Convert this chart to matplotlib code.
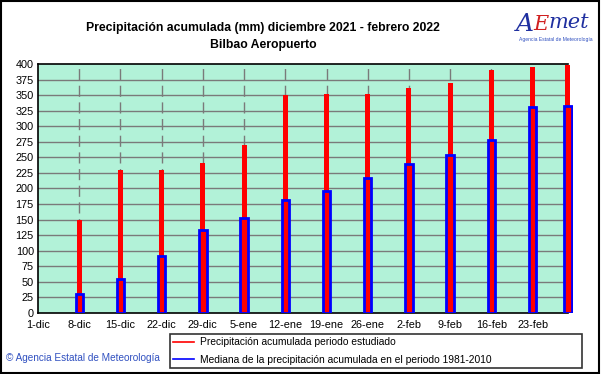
import matplotlib.pyplot as plt
from matplotlib.lines import Line2D
from matplotlib.patches import Rectangle

plt.rcParams['font.family'] = ['Liberation Sans', 'DejaVu Sans']

# data
days = [7, 14, 21, 28, 35, 42, 49, 56, 63, 70, 77, 84, 90]
precip_periodo = [150, 230, 230, 241, 270, 350, 351, 352, 362, 370, 390, 395, 399]
mediana_1981_2010 = [31, 55, 92, 134, 152, 181, 196, 217, 240, 254, 278, 331, 333]
tick_days = [0, 7, 14, 21, 28, 35, 42, 49, 56, 63, 70, 77, 84]
tick_labels = ['1-dic', '8-dic', '15-dic', '22-dic', '29-dic', '5-ene', '12-ene',
               '19-ene', '26-ene', '2-feb', '9-feb', '16-feb', '23-feb']

fig = plt.figure(figsize=(6.01, 3.74), dpi=100)
fig.patch.set_facecolor('white')
# axes runs a little past day 90 so the last bar is not cut
ax = fig.add_axes([0.0632, 0.163, 0.8818 * 90.8 / 90, 0.666])

# grid
for y in range(25, 400, 25):
    ax.plot([0, 90], [y, y], color='#7a7a7a', lw=1, zorder=1)
for d in tick_days[1:]:
    ax.axvline(d, color='#7a7a7a', lw=1, ls=(0, (8, 4)), zorder=1)

# bars
ax.bar(days, precip_periodo, width=0.85, color='red', zorder=3)
ax.bar(days, mediana_1981_2010, width=1.25, color='red', edgecolor='blue',
       linewidth=2, zorder=4)

ax.set_xlim(0, 90.8)
ax.set_ylim(0, 400)
ax.set_yticks(range(0, 401, 25))
ax.set_xticks(tick_days)
ax.set_xticklabels(tick_labels)
ax.tick_params(length=0, labelsize=7.8, pad=5)
ax.tick_params(axis='y', pad=3)
ax.spines['right'].set_visible(False)
ax.spines['top'].set_bounds(0, 90)
ax.spines['bottom'].set_bounds(0, 90)
for s in ['left', 'top', 'bottom']:
    ax.spines[s].set_linewidth(1.2)
ax.patch.set_visible(False)
ax.add_patch(Rectangle((0, 0), 90, 400, facecolor='#b2f2d8', edgecolor='none', zorder=0))

# titles
fig.text(0.438, 0.925, 'Precipitación acumulada (mm) diciembre 2021 - febrero 2022',
         ha='center', va='center', fontsize=8.8, fontweight='bold')
fig.text(0.438, 0.880, 'Bilbao Aeropuerto', ha='center', va='center',
         fontsize=8.8, fontweight='bold')

# logo
fig.text(0.858, 0.935, 'A', ha='left', va='center', fontsize=18,
         style='italic', color='#2030a0', family='DejaVu Serif')
fig.text(0.888, 0.935, 'E', ha='left', va='center', fontsize=15,
         style='italic', color='#d02020', family='DejaVu Serif')
fig.text(0.912, 0.94, 'met', ha='left', va='center', fontsize=15,
         style='italic', color='#2030a0', family='DejaVu Serif')
fig.text(0.925, 0.895, 'Agencia Estatal de Meteorología', ha='center', va='center',
         fontsize=3.6, color='#3050c0')

# legend
handles = [Line2D([], [], color='red', lw=1.2),
           Line2D([], [], color='blue', lw=1.2)]
leg = fig.legend(handles, ['Precipitación acumulada periodo estudiado',
                           'Mediana de la precipitación acumulada en el periodo 1981-2010'],
                 loc='lower left', bbox_to_anchor=(0.283, 0.016, 0.686, 0.092),
                 mode='expand', fontsize=7.4, frameon=True, fancybox=False,
                 borderaxespad=0, borderpad=0.3, labelspacing=0.75,
                 handlelength=2.0, handletextpad=0.6)
leg.get_frame().set_edgecolor('black')
leg.get_frame().set_linewidth(1.2)

fig.text(0.01, 0.042, '© Agencia Estatal de Meteorología', ha='left', va='center',
         fontsize=7.2, color='#3050c0')

# outer frame
fig.patches.append(Rectangle((0.002, 0.003), 0.995, 0.994, transform=fig.transFigure,
                             fill=False, edgecolor='black', lw=1.5))

plt.savefig('out.png', dpi=100)
